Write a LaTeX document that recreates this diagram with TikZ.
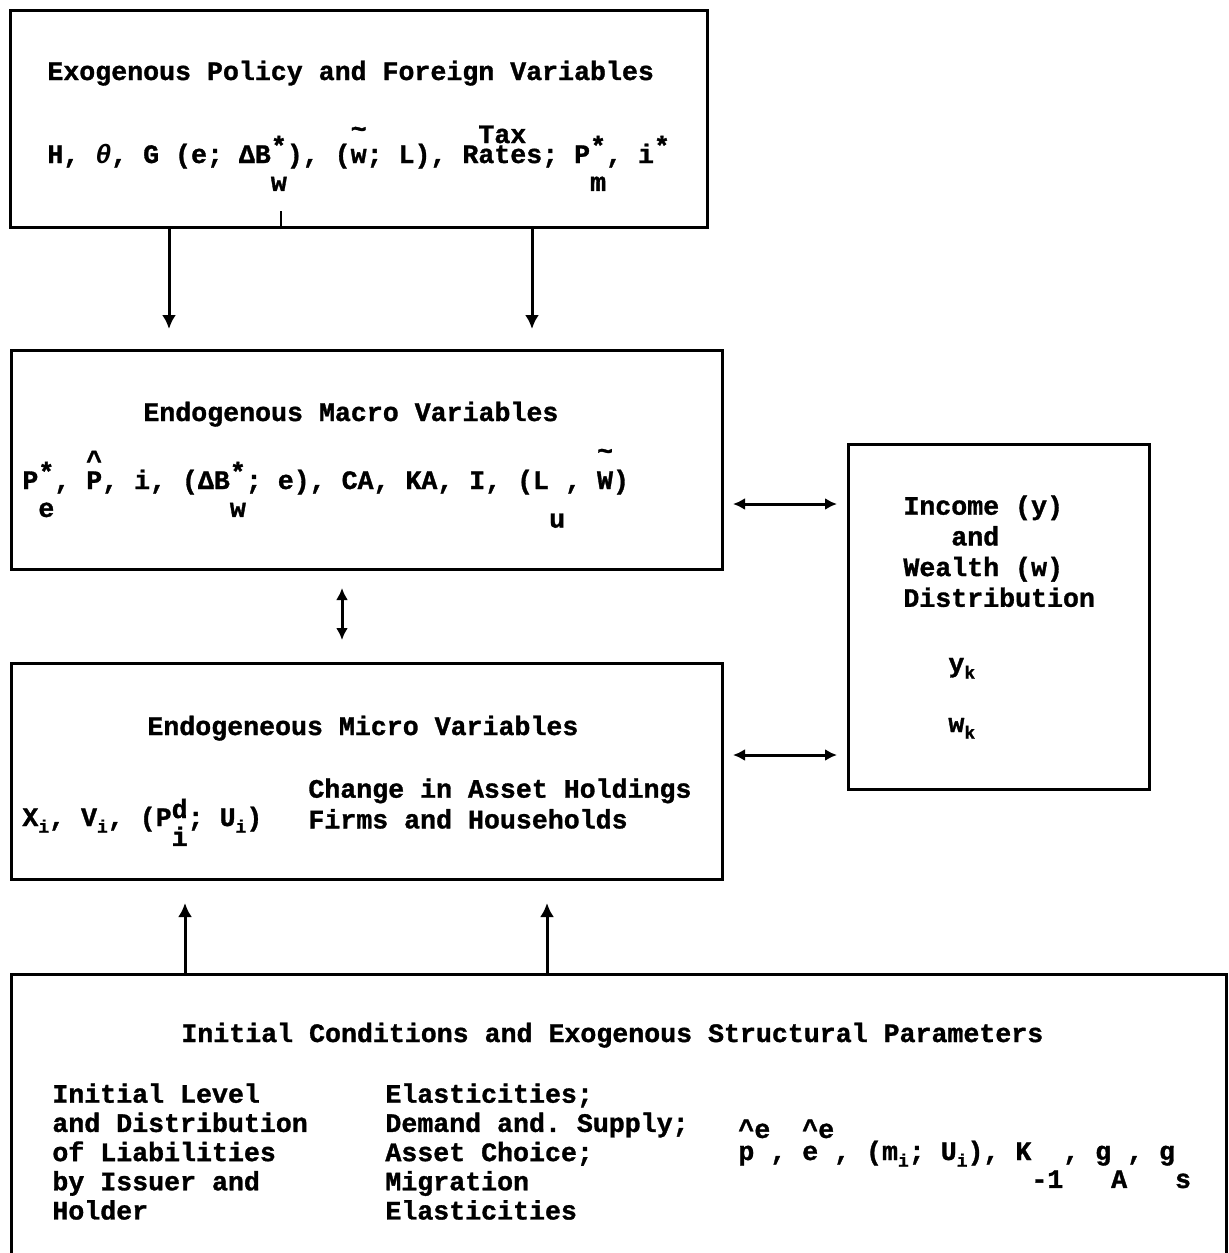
\documentclass[tikz,border=0pt]{standalone}
\usepackage{fontspec}
\setmonofont{Liberation Mono}[WordSpace={1,0,0}, BoldFeatures={FakeBold=1.2}]
\usetikzlibrary{arrows.meta, positioning}
\frenchspacing
\newcommand{\hup}[1]{\raisebox{0.3em}{#1}}
\newcommand{\hdn}[1]{\raisebox{-1.05em}{#1}}
\newcommand{\stk}[3][1.05em]{\rlap{\hup{#2}}\raisebox{-#1}{#3}}
\newcommand{\ovmark}[3]{\rlap{\raisebox{#1}{#2}}#3}
\newcommand{\lowix}[1]{\raisebox{-0.25em}{\fontsize{9pt}{9pt}\selectfont #1}}
\tikzset{panel/.style={draw, line width=1.5pt, inner sep=0pt, anchor=north west}}
\tikzset{boxtext/.style={inner sep=0pt, anchor=base west}}
\tikzset{boxlines/.style={inner sep=0pt, anchor=north west, align=left}}
\tikzset{link/.style={line width=1.5pt, -{Latex[length=7pt, width=7pt]}}}
\tikzset{twoway/.style={line width=1.5pt, {Latex[length=6pt, width=6pt]}-{Latex[length=6pt, width=6pt]}}}
\begin{document}
\begin{tikzpicture}[x=0.5pt, y=-0.5pt, font=\fontsize{13.3pt}{15.35pt}\selectfont\ttfamily\bfseries]
\useasboundingbox (0,0) rectangle (1228,1253);

% boxes
\node[panel, minimum width=348.5pt, minimum height=108.5pt] (exo) at (9,9) {};
\node[panel, minimum width=355.5pt, minimum height=109.5pt] (macro) at (10,349) {};
\node[panel, minimum width=355.5pt, minimum height=108pt] (micro) at (10,662) {};
\node[panel, minimum width=150.5pt, minimum height=172.5pt] (dist) at (847,443) {};
\node[panel, minimum width=607.5pt, minimum height=150pt] (init) at (10,973) {};

% exogenous policy
\node[boxtext, below right=35.5pt and 19pt of exo.north west, anchor=base west] (exotitle) {Exogenous Policy and Foreign Variables};
\node[boxtext, below right=77pt and 19pt of exo.north west, anchor=base west] (exovars)
  {H, {\itshape θ}, G (e; ΔB\stk{*}{w}), (\ovmark{0.95em}{\textasciitilde}{w}; L), \ovmark{0.75em}{\hspace{0.6em}Tax}{Rates}; P\stk{*}{m}, i\hup{*}};
\draw[line width=1.2pt] ([xshift=136pt]exo.south west) -- ++(0pt,9pt);

% macro variables
\node[boxtext, below right=36pt and 66.5pt of macro.north west, anchor=base west] (macrotitle) {Endogenous Macro Variables};
\node[boxtext, below right=70pt and 6pt of macro.north west, anchor=base west] (macrovars)
  {P\stk{*}{e}, \ovmark{0.75em}{\textasciicircum}{P}, i, (ΔB\stk{*}{w}; e), CA, KA, I, (L\raisebox{-1.45em}{u}, \ovmark{1.1em}{\textasciitilde}{W})};

% micro variables
\node[boxtext, below right=36.5pt and 68.5pt of micro.north west, anchor=base west] (microtitle) {Endogeneous Micro Variables};
\node[boxtext, below right=82pt and 6pt of micro.north west, anchor=base west] (microvars)
  {X\lowix{i}, V\lowix{i}, (P\stk[0.75em]{d}{i}; U\lowix{i})};
\node[boxlines, below right=58pt and 149pt of micro.north west] (assetnote) {Change in Asset Holdings\\Firms and Households};

% distribution
\node[boxlines, below right=26pt and 28pt of dist.north west] (disttext) {Income (y)\\~~~and\\Wealth (w)\\Distribution};
\node[boxtext, below right=114.5pt and 50.5pt of dist.north west, anchor=base west] (ydist) {y\lowix{k}};
\node[boxtext, below right=144.5pt and 50.5pt of dist.north west, anchor=base west] (wdist) {w\lowix{k}};

% initial conditions
\node[boxtext, below right=34.5pt and 85.5pt of init.north west, anchor=base west] (inittitle) {Initial Conditions and Exogenous Structural Parameters};
\node[boxlines, font=\fontsize{13.3pt}{14.6pt}\selectfont\ttfamily\bfseries, below right=55pt and 21pt of init.north west] (initlevel) {Initial Level\\and Distribution\\of Liabilities\\by Issuer and\\Holder};
\node[boxlines, font=\fontsize{13.3pt}{14.6pt}\selectfont\ttfamily\bfseries, below right=55pt and 187.5pt of init.north west] (initelast) {Elasticities;\\Demand and. Supply;\\Asset Choice;\\Migration\\Elasticities};
\node[boxtext, below right=93.5pt and 364pt of init.north west, anchor=base west] (initvars)
  {\ovmark{0.83em}{\textasciicircum e}{p}~, \ovmark{0.83em}{\textasciicircum e}{e}~, (m\lowix{i}; U\lowix{i}), K\hdn{-1}, g\hdn{A}, g\hdn{s}};

% connectors
\draw[link] ([xshift=80pt]exo.south west) -- ([xshift=79.5pt, yshift=10pt]macro.north west);
\draw[link] ([xshift=261.5pt]exo.south west) -- ([xshift=261pt, yshift=10pt]macro.north west);
\draw[twoway] ([xshift=166pt, yshift=-8.5pt]macro.south west) -- ([xshift=166pt, yshift=11pt]micro.north west);
\draw[twoway] ([xshift=4.5pt, yshift=-77.5pt]macro.north east) -- ([xshift=-5pt, yshift=-30.5pt]dist.north west);
\draw[twoway] ([xshift=4.5pt, yshift=-46.5pt]micro.north east) -- ([xshift=-5pt, yshift=-156pt]dist.north west);
\draw[link] ([xshift=87.5pt]init.north west) -- ([xshift=87.5pt, yshift=-11pt]micro.south west);
\draw[link] ([xshift=268.5pt]init.north west) -- ([xshift=268.5pt, yshift=-11pt]micro.south west);
\end{tikzpicture}
\end{document}
